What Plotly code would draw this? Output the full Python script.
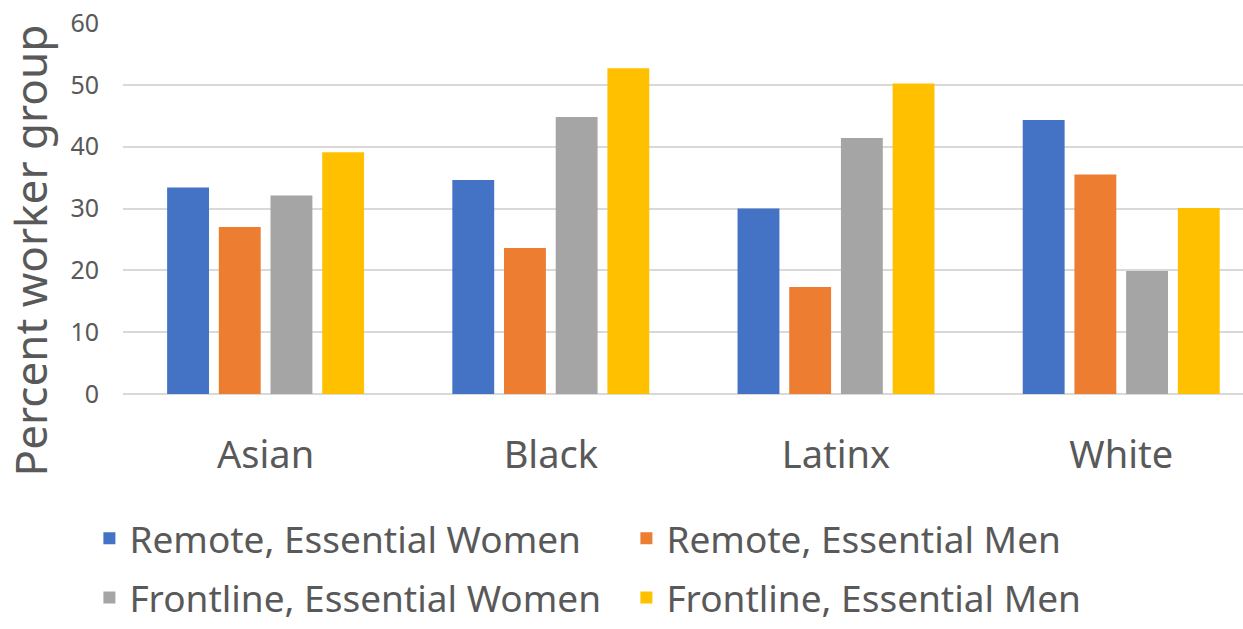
import plotly.graph_objects as go

categories = ["Asian", "Black", "Latinx", "White"]
remote_women = [33.4, 34.6, 30.0, 44.3]
remote_men = [27.0, 23.6, 17.3, 35.5]
frontline_women = [32.1, 44.8, 41.4, 19.9]
frontline_men = [39.1, 52.7, 50.2, 30.1]

series = [
    ("Remote, Essential Women", remote_women, "#4472C4", "legend"),
    ("Remote, Essential Men", remote_men, "#ED7D31", "legend"),
    ("Frontline, Essential Women", frontline_women, "#A5A5A5", "legend2"),
    ("Frontline, Essential Men", frontline_men, "#FFC000", "legend2"),
]

FONT = "Noto Sans"
TEXT = "#595959"

fig = go.Figure()
for name, vals, color, leg in series:
    fig.add_trace(go.Bar(
        x=categories, y=vals, name=name, marker_color=color,
        marker_line_width=0, legend=leg,
    ))

legend_style = dict(
    orientation="h", xanchor="left", yanchor="middle",
    font=dict(family=FONT, size=37, color=TEXT),
    bgcolor="rgba(0,0,0,0)", itemclick=False, itemdoubleclick=False,
    tracegroupgap=0, entrywidth=492,
)

fig.update_layout(
    width=1243, height=629,
    margin=dict(l=123, r=0, t=23, b=231),
    paper_bgcolor="white", plot_bgcolor="white",
    barmode="group", bargap=0.275, bargroupgap=0.19,
    font=dict(family=FONT, color=TEXT),
    showlegend=True,
    legend=dict(x=-0.03, y=-0.39, **legend_style),
    legend2=dict(x=-0.03, y=-0.55, **legend_style),
    xaxis=dict(
        range=[-0.5, 3.427],
        showgrid=False, showline=False, zeroline=False,
        ticks="outside", ticklen=27, tickcolor="rgba(0,0,0,0)",
        tickfont=dict(family=FONT, size=38, color=TEXT),
    ),
    yaxis=dict(
        range=[0, 60], dtick=10, showgrid=True, gridcolor="#D9D9D9", gridwidth=2,
        zeroline=True, zerolinecolor="#D9D9D9", zerolinewidth=2,
        showline=False,
        ticks="outside", ticklen=18, tickcolor="rgba(0,0,0,0)",
        tickfont=dict(family=FONT, size=25, color=TEXT),
    ),
    annotations=[dict(
        text="Percent worker group", textangle=-90,
        xref="paper", yref="paper", x=-0.083, y=0.387,
        xanchor="center", yanchor="middle", showarrow=False,
        font=dict(family=FONT, size=44, color=TEXT),
    )],
)

fig.write_html("out.html")
